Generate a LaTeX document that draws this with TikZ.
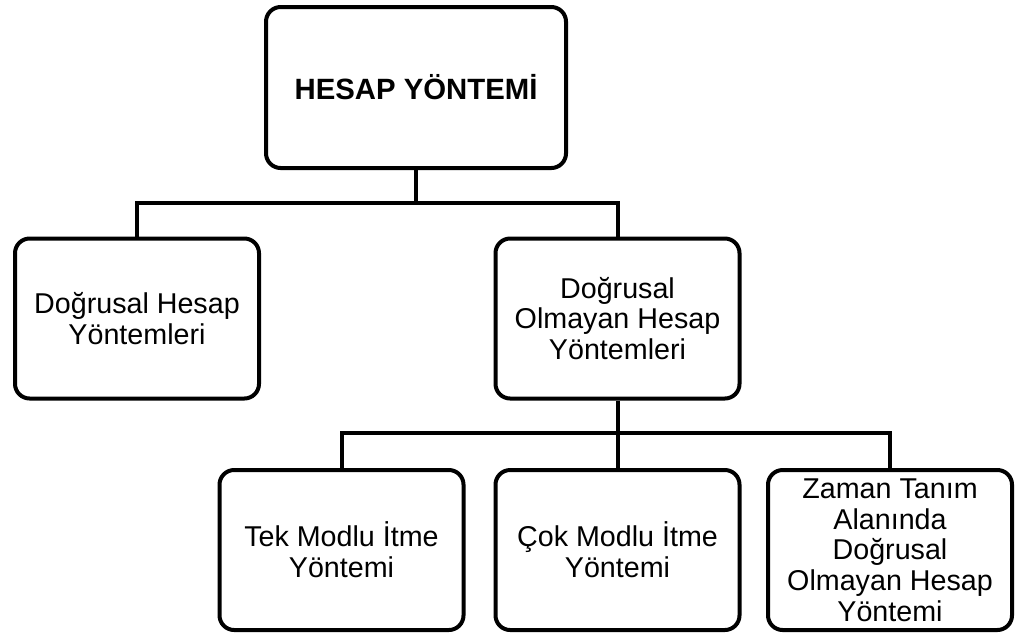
\documentclass[tikz,border=0pt]{standalone}
\usepackage{fontspec}
\setmainfont{Liberation Sans}

\tikzset{every picture/.style={line width=3pt}}
\tikzset{
  kutu/.style={draw, rounded corners=11pt, line width=3pt, align=center, inner sep=0.75pt,
    minimum width=183pt, minimum height=120pt, font=\fontsize{21.5}{23}\selectfont},
  anakutu/.style={kutu, minimum width=225pt, minimum height=120.75pt,
    font=\bfseries\fontsize{22}{24}\selectfont},
  baglanti/.style={line width=3pt}
}

\begin{document}
\begin{tikzpicture}[x=0.75pt,y=0.75pt,yscale=-1,xscale=1]
        \useasboundingbox (0,0) rectangle (1019,637);
        %Rounded Rect
        \node [anakutu] (hesap) at (416,87.5) {HESAP YÖNTEMİ};
        %Rounded Rect
        \node [kutu] (dogrusal) at (137,318.5) {Doğrusal Hesap\\Yöntemleri};
        %Rounded Rect
        \node [kutu] (olmayan) at (617.5,318.5) {Doğrusal\\Olmayan Hesap\\Yöntemleri};
        %Rounded Rect
        \node [kutu] (tek) at (341.5,550) {Tek Modlu İtme\\Yöntemi};
        %Rounded Rect
        \node [kutu] (cok) at (617.5,550) {Çok Modlu İtme\\Yöntemi};
        %Rounded Rect
        \node [kutu] (zaman) at (890,550) {Zaman Tanım\\Alanında\\Doğrusal\\Olmayan Hesap\\Yöntemi};
        % Bus points
        \coordinate (bus1) at (416,203);
        \coordinate (bus2) at (617.5,433);
        %Straight Lines
        \draw [baglanti] (hesap.south) -- (bus1);
        \draw [baglanti] (dogrusal.north) |- (bus1) -| (olmayan.north);
        %Straight Lines
        \draw [baglanti] (olmayan.south) -- (bus2);
        \draw [baglanti] (tek.north) |- (bus2) -| (zaman.north);
        \draw [baglanti] (cok.north) -- (bus2);
    \end{tikzpicture}
\end{document}
